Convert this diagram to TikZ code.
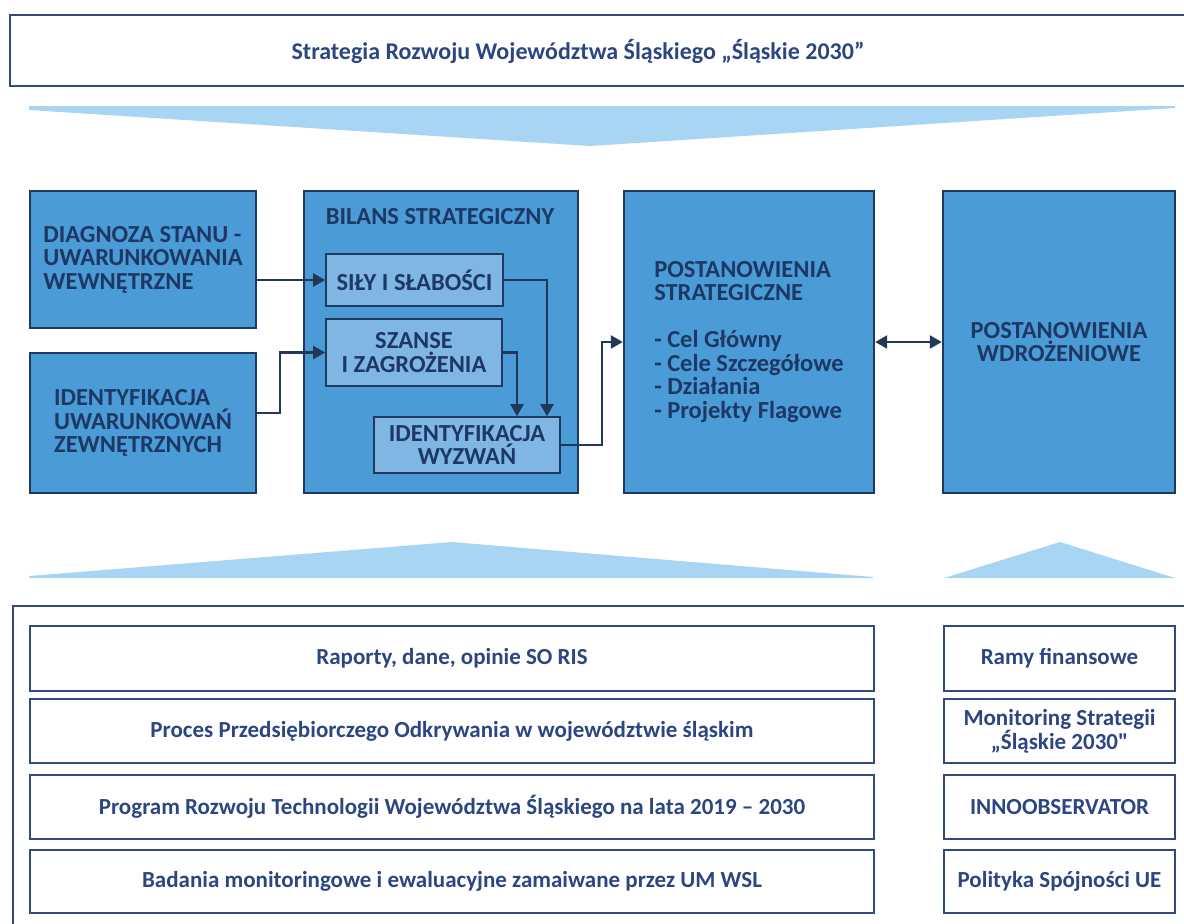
\documentclass[tikz,border=0pt]{standalone}
\usepackage{fontspec}
\setmainfont{Carlito}
\newfontfamily\rawcarlito{Carlito}
\usetikzlibrary{arrows.meta,calc}
\definecolor{navy}{HTML}{2F4B7E}
\definecolor{boxblue}{HTML}{4A9BD6}
\definecolor{innerblue}{HTML}{7FB6E4}
\definecolor{dtext}{HTML}{1E3866}
\definecolor{wedge}{HTML}{A8D5F3}
\definecolor{btext}{HTML}{2C4682}
\definecolor{edge}{HTML}{1F3A60}
\definecolor{arrowc}{HTML}{22385A}
\tikzset{
  bluebox/.style={draw=edge, line width=2.4pt, fill=boxblue, inner sep=0pt, text=dtext,
     font=\bfseries\fontsize{24.5}{23.5}\selectfont},
  innerbox/.style={draw=edge, line width=1.6pt, fill=innerblue, inner sep=0pt, text=dtext,
     font=\bfseries\fontsize{24.5}{23.5}\selectfont, align=center},
  whitebox/.style={draw=navy, line width=2.2pt, fill=white, inner sep=0pt, text=btext,
     font=\bfseries\fontsize{23}{21}\selectfont, align=center},
  frameline/.style={draw=navy, line width=2.2pt},
  arr/.style={draw=arrowc, line width=2.4pt, -{Triangle[length=12pt,width=13pt]}},
  darr/.style={draw=arrowc, line width=2.4pt, {Triangle[length=12pt,width=13pt]}-{Triangle[length=12pt,width=13pt]}},
}
\begin{document}
\begin{tikzpicture}[x=1pt,y=-1pt]
\useasboundingbox[fill=white] (0,0) rectangle (1184,924);
% top banner
\draw[frameline] (1184,15) -- (10,15) -- (10,86) -- (1184,86);
\node[text=btext, font=\bfseries\fontsize{24}{24}\selectfont] (title) at (578,51) {Strategia Rozwoju Województwa Śląskiego „Śląskie 2030”};
% top wedge
\fill[wedge] (29,106) -- (1175,106) -- (1175,108) -- (590,146) -- (29,110) -- cycle;
% main row
\node[bluebox, minimum width=226, minimum height=137, align=left] (diag) at (143,259.5)
  {DIAGNOZA STANU -\\UWARUNKOWANIA\\WEWNĘTRZNE};
\node[bluebox, minimum width=226, minimum height=140, align=left] (idz) at (143,423)
  {IDENTYFIKACJA\\UWARUNKOWAŃ\\ZEWNĘTRZNYCH};
\node[bluebox, minimum width=274, minimum height=302] (bilans) at (441,342) {};
\node[text=dtext, font=\bfseries\fontsize{24.5}{23.5}\selectfont] (btitle) at (440,217) {BILANS STRATEGICZNY};
\node[innerbox, minimum width=177, minimum height=52] (sily) at (414.5,280) {SIŁY I SŁABOŚCI};
\node[innerbox, minimum width=176, minimum height=67] (szanse) at (414,352.5) {SZANSE\\I ZAGROŻENIA};
\node[innerbox, minimum width=186, minimum height=56] (wyz) at (467,445) {IDENTYFIKACJA\\WYZWAŃ};
\node[bluebox, minimum width=250, minimum height=302, align=left] (post) at (749,342)
  {POSTANOWIENIA\\STRATEGICZNE\\[23.5pt]- Cel Główny\\- Cele Szczegółowe\\- Działania\\- Projekty Flagowe};
\node[bluebox, minimum width=232, minimum height=302, align=center] (wdr) at (1059,342)
  {POSTANOWIENIA\\WDROŻENIOWE};
% arrows
\draw[arr] (sily.west -| diag.east) -- (sily.west);
\draw[arr] ([yshift=10pt]idz.east) -- ++(23,0) |- (szanse.west);
\draw[arr] (sily.east) -| ([xshift=80pt]wyz.north);
\draw[arr] (szanse.east) -| ([xshift=50pt]wyz.north);
\draw[arr] (wyz.east) -- ++(41,0) |- (post.west);
\draw[darr] (post.east) -- (wdr.west);
% bottom wedges
\fill[wedge] (29,578) -- (29,576) -- (452,542) -- (873,577) -- (873,578) -- cycle;
\fill[wedge] (944,578) -- (1060,542) -- (1175,578) -- cycle;
% bottom frame
\draw[frameline] (1184,606) -- (13,606) -- (13,924);
% bottom rows
\node[whitebox, minimum width=844, minimum height=65] (r1) at (452,658.5) {Raporty, dane, opinie SO RIS};
\node[whitebox, minimum width=844, minimum height=64] (r2) at (452,731) {Proces Przedsiębiorczego Odkrywania w województwie śląskim};
\node[whitebox, minimum width=844, minimum height=64] (r3) at (452,807) {Program Rozwoju Technologii Województwa Śląskiego na lata 2019 – 2030};
\node[whitebox, minimum width=844, minimum height=63] (r4) at (452,881.5) {Badania monitoringowe i ewaluacyjne zamaiwane przez UM WSL};
\node[whitebox, minimum width=231, minimum height=65] (s1) at (1059.5,658.5) {Ramy finansowe};
\node[whitebox, minimum width=231, minimum height=64] (s2) at (1059.5,731) {Monitoring Strategii\\„Śląskie 2030{\rawcarlito\bfseries"}};
\node[whitebox, minimum width=231, minimum height=64] (s3) at (1059.5,807) {INNOOBSERVATOR};
\node[whitebox, minimum width=231, minimum height=63] (s4) at (1059.5,881.5) {Polityka Spójności UE};
\end{tikzpicture}
\end{document}
